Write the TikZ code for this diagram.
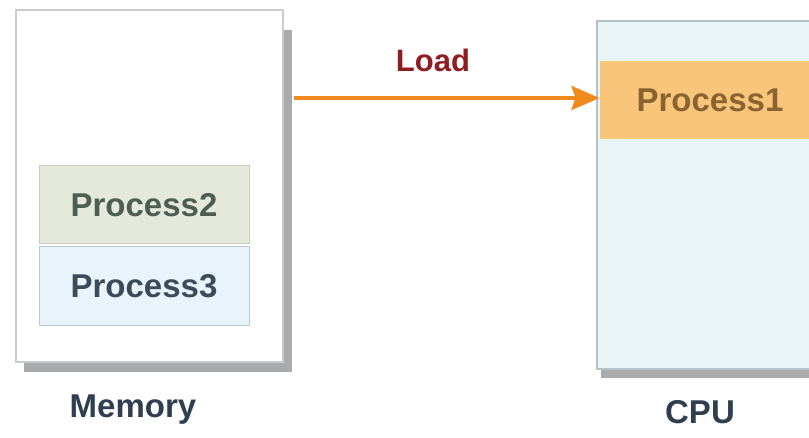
\documentclass[tikz,border=0pt]{standalone}
\usepackage{fontspec}
\setmainfont{Liberation Sans}
\usetikzlibrary{arrows.meta}
\definecolor{shadowgray}{HTML}{A9ABAD}
\definecolor{memborder}{HTML}{CACCCE}
\definecolor{cpufill}{HTML}{EAF5F8}
\definecolor{cpuborder}{HTML}{B4C2C8}
\definecolor{ptwofill}{HTML}{E4E9DB}
\definecolor{ptwoborder}{HTML}{C6CFBE}
\definecolor{ptwotext}{HTML}{4C5E52}
\definecolor{pthreefill}{HTML}{E8F4FA}
\definecolor{pthreeborder}{HTML}{BACDD8}
\definecolor{pthreetext}{HTML}{3C4B5A}
\definecolor{ponefill}{HTML}{F9C57A}
\definecolor{ponetext}{HTML}{8A6430}
\definecolor{arroworange}{HTML}{F0891E}
\definecolor{loadred}{HTML}{8E1C22}
\definecolor{labeltext}{HTML}{2F3F4F}
\tikzset{
  bigtext/.style={font=\fontsize{33}{36}\selectfont\bfseries},
  container/.style={rectangle, line width=1.2pt, inner sep=0pt},
  procbox/.style={rectangle, line width=1pt, inner sep=0pt, bigtext},
  shadowbox/.style={fill=shadowgray, draw=none},
}
\begin{document}
\begin{tikzpicture}[x=1pt,y=-1pt]
\useasboundingbox (0,0) rectangle (809,438);
\begin{scope}
\clip (0,0) rectangle (809,438);
% shadows
\fill[shadowgray] (24,30) rectangle (292,372);
\fill[shadowgray] (601,30) rectangle (840,378);
% memory container
\node[container, draw=memborder, fill=white, minimum width=267pt, minimum height=352pt] (mem) at (149.5,186) {};
% cpu container
\node[container, draw=cpuborder, fill=cpufill, minimum width=250pt, minimum height=348pt] (cpu) at (722,195) {};
% processes
\node[procbox, draw=ptwoborder, fill=ptwofill, text=ptwotext, minimum width=210pt, minimum height=78pt] (p2) at (144,205) {Process2};
\node[procbox, draw=pthreeborder, fill=pthreefill, text=pthreetext, minimum width=210pt, minimum height=79pt] (p3) at (144,286.5) {Process3};
\node[procbox, draw=none, fill=ponefill, text=ponetext, minimum width=220pt, minimum height=78pt] (p1) at (710,100) {Process1\hspace{20pt}};
\end{scope}
% arrow
\coordinate (astart) at (294,98);
\draw[arroworange, line width=4pt, -{Stealth[length=28pt,width=24pt,inset=4pt]}] (astart) -- (p1.west |- astart);
\node[bigtext, text=loadred, font=\fontsize{31}{34}\selectfont\bfseries] (load) at (433,60) {Load};
% labels
\node[bigtext, text=labeltext] (memlabel) at (133,410) {Memory};
\node[bigtext, text=labeltext] (cpulabel) at (700,412) {CPU};
\end{tikzpicture}
\end{document}
